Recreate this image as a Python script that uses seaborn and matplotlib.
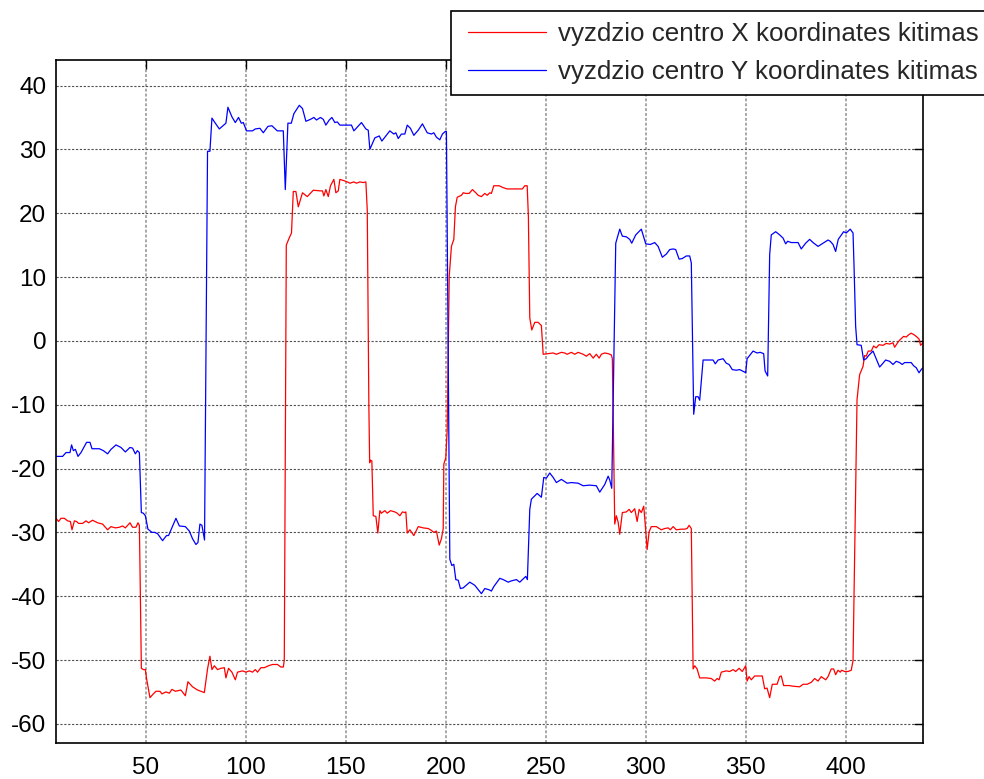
import matplotlib
matplotlib.use("Agg")
import matplotlib.pyplot as plt
import seaborn as sns
import pandas as pd

# Pupil centre X coordinate over frames
x_frames = [5, 6.3, 7.5, 9.2, 10.8, 12.2, 13, 14.2, 15.3, 16.3, 18.3, 20, 21.3, 23.3, 25.8, 28.3,
            30.8, 32.5, 34.7, 36.7, 38.3, 39.7, 42, 43.3, 45, 46, 46.7, 47, 47.7, 48.7, 49.7, 50.3,
            52, 53.7, 55, 57, 58, 60, 61.7, 63, 64.7, 67.5, 69.7, 71, 73.3, 75.8, 78.3, 79.2,
            80.8, 82, 83, 84.2, 85.8, 87.5, 89.2, 90, 91.3, 93, 94.7, 95.8, 98.3, 100, 101.7,
            103.3, 104.7, 105.8, 107.5, 109.2, 111.3, 113.3, 115.8, 117.5, 118.7, 119.2, 120.2,
            121.5, 122.8, 123.7, 125, 126.2, 128.3, 130.7, 133.7, 137, 138.3, 139, 140, 141.2,
            142.3, 144, 145, 146.2, 147, 149, 150.7, 152, 154, 155.3, 157, 158.7, 160, 160.7,
            161.5, 161.9, 162.3, 163, 163.7, 165, 166, 167, 167.8, 169.5, 170.7, 172.3, 174.5,
            175.7, 177, 178.3, 179.5, 180, 180.7, 182, 184, 186.2, 188.7, 191.2, 192.8, 194,
            195.3, 196.7, 197.8, 198.7, 199, 200, 200.7, 201.7, 202.8, 204, 204.8, 205.7, 207.8,
            208.7, 210, 211.7, 213.3, 215, 216.2, 217.8, 219.5, 220.7, 222, 222.8, 224, 226.7,
            228.7, 230.7, 235.3, 238.3, 239.5, 240.7, 241.3, 242, 243, 244.5, 246.2, 247.8,
            248.7, 251.2, 253.7, 255.3, 257.8, 259.5, 260.7, 262.8, 264.5, 266.2, 268.7, 270.3,
            272, 273.7, 275.3, 276.7, 277.8, 279.5, 281.2, 282.8, 283.3, 284.5, 285.3, 286.2,
            287, 288.3, 290.3, 291.7, 292.8, 294.5, 295.7, 296.7, 297.8, 299, 299.8, 300.7,
            301.7, 302.8, 305.3, 307.8, 309.5, 311.2, 312.3, 313.7, 315.3, 317.8, 319.5, 320.7,
            321.7, 322.8, 323.7, 324.5, 325.7, 327, 330.3, 332.8, 334.5, 335.7, 336.7, 337.8,
            340.3, 342, 343.7, 345, 346.7, 348.3, 350, 350.7, 351.7, 352.8, 354.5, 358.3, 359.5,
            360.7, 362, 363.3, 365.7, 367, 367.8, 369, 371.7, 373.7, 377, 378.7, 380.7, 382.8,
            384.5, 386.2, 387.8, 390, 391.2, 392.8, 394, 395, 396.2, 397.3, 398, 399.5, 401.2,
            402.8, 403.7, 405.7, 407, 408.7, 409.5, 410.3, 411.3, 412.8, 414, 415.3, 416.7,
            418.7, 420.3, 422, 423.7, 424.5, 426.2, 427.3, 429, 430.3, 431.7, 432.8, 434, 435.3,
            436.7, 437.5, 438.7]
x_values = [-27.8, -28.3, -27.8, -27.8, -28.2, -28.3, -29.6, -28.2, -28.3, -28.6, -28.6, -28.2,
            -28.5, -28.1, -28.5, -28.7, -29.6, -29.1, -29.3, -29.2, -29.0, -29.3, -28.5, -29.2,
            -29.2, -28.5, -28.9, -35.2, -51.3, -51.5, -51.5, -52.9, -55.9, -55.3, -54.9, -54.9,
            -55.3, -55.0, -55.2, -54.6, -54.9, -54.7, -55.6, -53.4, -54.2, -54.7, -55.0, -55.1,
            -51.4, -49.4, -51.5, -50.9, -51.5, -51.3, -51.2, -52.8, -51.3, -51.9, -53.1, -51.9,
            -51.7, -51.9, -51.7, -51.9, -51.5, -51.9, -51.2, -51.2, -50.9, -50.7, -50.7, -51.1,
            -51.1, -50.0, 15.0, 16.0, 16.9, 23.4, 23.4, 21.0, 23.2, 22.6, 23.6, 23.5, 23.5,
            22.7, 23.7, 22.6, 24.3, 25.3, 23.2, 23.5, 25.3, 25.1, 24.9, 24.7, 24.9, 24.7, 24.9,
            24.8, 24.9, 20.5, -10.0, -19.1, -18.7, -18.8, -27.4, -27.5, -30.1, -26.6, -27.0,
            -26.6, -27.0, -26.6, -26.8, -27.0, -27.4, -26.8, -26.9, -26.8, -30.1, -29.6, -30.5,
            -29.1, -29.3, -29.4, -29.7, -30.0, -29.8, -32.0, -31.0, -29.4, -19.3, -18.3, -13.9,
            10.1, 14.8, 15.9, 21.0, 22.5, 22.8, 23.2, 23.1, 23.1, 23.7, 23.2, 22.8, 22.6, 23.1,
            22.8, 23.2, 23.1, 24.3, 24.3, 24.0, 23.8, 23.8, 23.8, 24.3, 24.3, 19.5, 3.6, 1.7,
            2.9, 2.9, 2.4, -2.1, -2.0, -1.9, -2.1, -1.8, -1.9, -2.1, -1.8, -2.1, -1.8, -2.1,
            -2.4, -2.0, -2.7, -2.1, -2.7, -2.1, -1.9, -2.0, -2.2, -2.8, -28.7, -27.4, -28.4,
            -30.3, -26.9, -26.8, -26.4, -26.9, -26.3, -28.3, -26.4, -26.9, -25.9, -28.9, -32.7,
            -29.9, -29.1, -29.1, -29.6, -29.4, -29.3, -29.6, -29.1, -29.6, -29.5, -29.5, -29.4,
            -28.9, -29.4, -51.4, -50.9, -51.4, -52.8, -52.8, -52.9, -53.3, -52.9, -53.1, -51.9,
            -51.7, -51.8, -51.5, -51.8, -51.3, -51.8, -50.9, -53.3, -52.6, -53.1, -52.5, -52.5,
            -54.5, -54.4, -55.9, -53.8, -53.8, -52.6, -52.5, -54.0, -54.0, -54.1, -54.2, -53.8,
            -53.8, -53.5, -52.9, -53.3, -52.6, -53.1, -52.6, -51.4, -51.4, -52.3, -51.6, -51.9,
            -51.6, -51.8, -51.8, -51.6, -50.1, -9.2, -5.3, -4.0, -2.3, -2.4, -1.6, -1.6, -0.8,
            -1.1, -0.6, -0.7, -0.4, -0.5, -0.3, -1.0, -0.2, 0.2, 0.7, 0.6, 1.0, 1.2, 1.0, 0.7,
            0.3, -0.7, -0.3]

# Pupil centre Y coordinate over frames
y_frames = [5, 8.3, 10, 12, 12.8, 13.7, 14.7, 16, 17.5, 20.3, 22, 23, 26.7, 28.7, 30.8, 32.5, 35,
            37.5, 39.7, 42, 43.3, 44.7, 45.7, 46.7, 47.7, 48.7, 49.7, 51, 53, 54.3, 55.8, 58.3,
            60.3, 61.3, 65, 66.7, 69.7, 71.7, 73.3, 75, 76, 77, 78, 79.3, 80.8, 82, 83, 84.7,
            86.7, 90, 91, 93, 94.7, 96.3, 97.7, 98.7, 100.3, 103.3, 104.7, 107, 108.7, 111, 113,
            115.7, 118.7, 119.7, 121, 122.7, 124, 126.7, 128.3, 130, 132.3, 134, 135.3, 137.3,
            138.7, 140, 141.7, 143, 144.5, 145.7, 147, 152.8, 154, 157.8, 160, 161.2, 162, 164.5,
            166.7, 168, 172, 174, 175, 176.2, 177.8, 179.5, 180.7, 182.3, 184, 186.2, 188.3,
            190.7, 192.8, 194, 195.3, 197, 198.3, 199.7, 200.3, 202, 203, 204, 205, 206.2, 207.3,
            208.7, 212, 214.5, 217.8, 219.5, 221.7, 222.8, 224, 227, 228.7, 231.2, 232.8, 235.3,
            237, 240, 240.8, 242, 242.8, 245.7, 247.8, 249, 250.3, 252, 253.7, 255.3, 257.8,
            260.7, 262.8, 266.2, 268.7, 272, 275.3, 277, 279.5, 281.2, 282, 283, 285, 287, 288.3,
            290.3, 292, 293, 295, 297.8, 300, 302.3, 304.5, 306.2, 308.3, 310.3, 312, 313.7, 315,
            316.7, 318.3, 320.3, 322, 322.8, 324, 325, 326.2, 327, 328.7, 333.7, 334.8, 336.2,
            338.7, 340.3, 341.7, 343.3, 345.3, 347, 349.5, 350, 350.7, 353.7, 355.7, 357.3, 359,
            359.7, 361, 362, 362.8, 365, 367, 368.7, 370, 371, 372.8, 376.2, 377.8, 380, 382,
            383.7, 386.2, 388.7, 391.2, 392.3, 393.7, 395, 396.3, 399, 400.3, 402.3, 403.7, 404.2,
            405, 405.7, 407.8, 409, 410.3, 411.5, 413.7, 415.3, 417, 418.7, 420, 422, 423.7,
            425.3, 427, 428.3, 429.5, 431.2, 432.8, 434, 435.3, 436.7, 437.8, 438.7]
y_values = [-18.1, -18.1, -17.5, -17.5, -16.3, -17.2, -17.0, -18.1, -17.5, -15.9, -15.9, -16.9,
            -16.9, -17.2, -17.7, -17.0, -16.3, -16.7, -17.4, -16.7, -16.8, -17.7, -17.2, -17.5,
            -26.9, -27.0, -27.4, -29.5, -30.0, -30.0, -30.2, -31.3, -30.5, -30.5, -27.8, -29.0,
            -29.1, -29.8, -31.0, -31.9, -31.6, -28.7, -28.9, -31.2, 29.7, 29.7, 34.9, 34.1,
            33.2, 34.1, 36.6, 35.1, 34.2, 35.0, 34.1, 34.2, 32.9, 32.9, 33.2, 33.3, 32.6, 33.6,
            33.7, 32.9, 32.9, 23.7, 34.1, 34.1, 35.6, 36.9, 36.4, 34.4, 34.7, 35.0, 34.6, 35.0,
            34.7, 33.8, 34.6, 35.0, 34.2, 34.3, 33.8, 33.8, 32.9, 34.2, 33.2, 33.0, 30.0, 31.8,
            32.1, 31.3, 32.9, 32.4, 32.6, 31.7, 32.4, 32.4, 33.8, 33.3, 32.2, 33.0, 34.0, 32.6,
            32.4, 32.6, 31.9, 31.5, 32.4, 32.8, 32.8, -34.2, -35.2, -35.0, -37.4, -37.5, -38.8,
            -38.7, -37.8, -38.3, -39.6, -38.8, -39.0, -39.2, -38.5, -37.2, -37.4, -37.8, -37.6,
            -37.4, -37.8, -36.9, -37.4, -26.4, -24.8, -23.9, -24.5, -21.4, -21.5, -20.7, -21.4,
            -22.2, -21.7, -22.3, -22.2, -22.3, -22.7, -22.6, -22.7, -23.7, -22.5, -21.2, -21.8,
            -23.1, 15.3, 17.5, 16.4, 16.3, 15.9, 15.3, 16.6, 17.5, 15.2, 15.1, 15.4, 14.8, 13.1,
            13.6, 14.3, 14.4, 14.3, 12.8, 12.9, 13.3, 13.3, 12.2, -11.5, -8.75, -8.75, -9.3,
            -3.0, -3.0, -3.6, -3.0, -2.8, -3.5, -3.7, -4.5, -4.6, -4.5, -4.9, -5.0, -2.8, -1.6,
            -1.9, -1.8, -2.0, -4.7, -5.5, 13.5, 16.6, 17.1, 16.6, 16.1, 15.2, 15.6, 15.4, 15.4,
            14.4, 15.3, 15.9, 15.4, 14.8, 15.3, 15.8, 15.6, 15.1, 14.0, 15.9, 17.1, 16.9, 17.5,
            16.9, 11.7, 2.3, -0.6, -0.7, -3.0, -2.8, -2.3, -1.6, -2.8, -4.1, -3.5, -3.0, -3.2,
            -3.7, -3.2, -3.4, -3.7, -3.4, -3.4, -3.4, -3.9, -4.2, -5.0, -4.5, -4.2]

labels = ["vyzdzio centro X koordinates kitimas", "vyzdzio centro Y koordinates kitimas"]
x_ticks = [50, 100, 150, 200, 250, 300, 350, 400]
y_ticks = [-60, -50, -40, -30, -20, -10, 0, 10, 20, 30, 40]

df = pd.concat([
    pd.DataFrame({"frame": x_frames, "value": x_values, "series": labels[0]}),
    pd.DataFrame({"frame": y_frames, "value": y_values, "series": labels[1]}),
], ignore_index=True)

sns.set_style("white")
plt.rcParams["font.family"] = ["Liberation Sans", "DejaVu Sans"]
plt.rcParams["axes.unicode_minus"] = False

W, H = 984, 779
fig = plt.figure(figsize=(W / 100, H / 100), dpi=100)
ax = fig.add_axes([56 / W, 1 - 743 / H, (923 - 56) / W, (743 - 60) / H])

sns.lineplot(data=df, x="frame", y="value", hue="series",
             palette={labels[0]: "#ff0000", labels[1]: "#0000ff"},
             estimator=None, sort=False, linewidth=0.9, ax=ax, legend=True)

ax.set_xlim(5, 438.7)
ax.set_ylim(-63, 44)
ax.set_xticks(x_ticks)
ax.set_yticks(y_ticks)
ax.set_xlabel("")
ax.set_ylabel("")

# MATLAB-like dotted grid
for xv in x_ticks:
    ax.axvline(xv, color="#a8a8a8", lw=1.4, ls=(0, (1.5, 1)), zorder=0)
for yv in y_ticks:
    ax.axhline(yv, color="#505050", lw=0.8, ls=(0, (2, 1.5)), zorder=0)

ax.tick_params(direction="in", length=6.5, width=1.0, labelsize=17.5,
               top=True, right=True, colors="black")
ax.tick_params(axis="x", pad=10)
ax.tick_params(axis="y", pad=7)
for s in ax.spines.values():
    s.set_visible(True)
    s.set_color("black")
    s.set_linewidth(1.2)

# Legend box sits over the top-right corner and runs off the figure edge
handles, lbls = ax.get_legend_handles_labels()
ax.get_legend().remove()
box = plt.Rectangle((451 / W, 1 - 95 / H), (1010 - 451) / W, 84 / H,
                    transform=fig.transFigure, facecolor="white", edgecolor="black",
                    linewidth=1.2, zorder=4)
fig.patches.append(box)
leg = fig.legend(handles, lbls, loc="upper left",
                 bbox_to_anchor=(468 / W, 1 - 22 / H), bbox_transform=fig.transFigure,
                 fontsize=18.7, frameon=False, borderaxespad=0, borderpad=0,
                 handlelength=3.0, handletextpad=0.45, labelspacing=0.55)
leg.set_zorder(6)
for ln in leg.get_lines():
    ln.set_linewidth(0.9)

fig.savefig("out.png", dpi=100)
